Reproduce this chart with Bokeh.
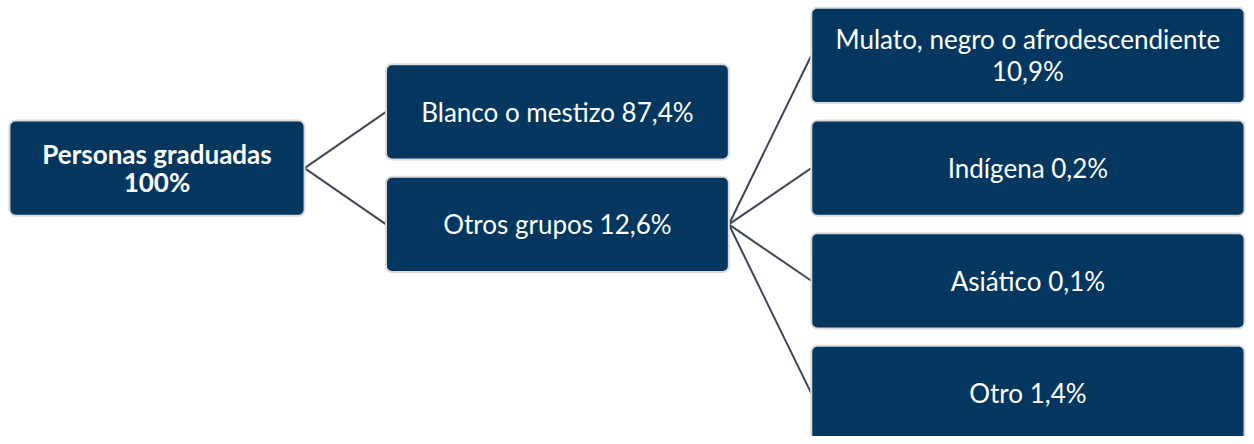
from bokeh.plotting import figure
from bokeh.models import Range1d, ColumnDataSource
from bokeh.core.properties import value
from bokeh.embed import file_html
from bokeh.resources import INLINE

# ---- data ----
root_label = "Personas graduadas"
root_value = "100%"
level1_labels = ["Blanco o mestizo", "Otros grupos"]
level1_values = [87.4, 12.6]
level2_labels = ["Mulato, negro o afrodescendiente", "Indígena", "Asiático", "Otro"]
level2_values = [10.9, 0.2, 0.1, 1.4]
parent_of_level2 = 1  # "Otros grupos"


def fmt(v):
    return f"{v:.1f}".replace(".", ",") + "%"


def make_text(lbl, val):
    if len(lbl) > 24:
        return lbl + "\n" + val
    return lbl + " " + val


# ---- layout (design units = reference pixels) ----
W, H = 1246, 436
UW, UH = 1254, 444
STEP = 114.7
BOX_H = 97
C0 = 56
cols = [(9, 306), (388, 733), (816, 1252)]

BOX = "#03375F"
EDGE = "#DADADA"
LINK = "#3F4756"

p = figure(width=W, height=H, output_backend="svg", toolbar_location=None,
           x_range=Range1d(0, UW), y_range=Range1d(UH, 0), min_border=0)
p.axis.visible = False
p.grid.visible = False
p.outline_line_color = None
p.background_fill_color = "white"
p.border_fill_color = "white"

root_c = C0 + STEP * 1.0
l1_c = [C0 + STEP * (0.5 + i) for i in range(len(level1_labels))]
l2_c = [C0 + STEP * i for i in range(len(level2_labels))]

# links
xs, ys = [], []
for c in l1_c:
    xs.append([cols[0][1], cols[1][0]])
    ys.append([root_c, c])
for c in l2_c:
    xs.append([cols[1][1], cols[2][0]])
    ys.append([l1_c[parent_of_level2], c])
p.multi_line(xs=xs, ys=ys, line_color=LINK, line_width=2)

# boxes
lefts, rights, tops, bottoms, texts, xc, yc = [], [], [], [], [], [], []


def add(col, c, txt):
    lefts.append(cols[col][0])
    rights.append(cols[col][1])
    tops.append(c - BOX_H / 2)
    bottoms.append(c + BOX_H / 2)
    texts.append(txt)
    xc.append((cols[col][0] + cols[col][1]) / 2)
    yc.append(c)


add(0, root_c, root_label + "\n" + root_value)
for lbl, v, c in zip(level1_labels, level1_values, l1_c):
    add(1, c, make_text(lbl, fmt(v)))
for lbl, v, c in zip(level2_labels, level2_values, l2_c):
    add(2, c, make_text(lbl, fmt(v)))

src = ColumnDataSource(dict(left=lefts, right=rights, top=tops, bottom=bottoms))
p.quad(left="left", right="right", top="top", bottom="bottom", source=src,
       fill_color=BOX, line_color=EDGE, line_width=2, border_radius=6)

tsrc_bold = ColumnDataSource(dict(x=xc[:1], y=yc[:1], t=texts[:1]))
tsrc = ColumnDataSource(dict(x=xc[1:], y=yc[1:], t=texts[1:]))
p.text(x="x", y="y", text="t", source=tsrc_bold, text_color="white",
       text_font=value("Lato"), text_font_size="26px", text_font_style="bold",
       text_align="center", text_baseline="middle", text_line_height=0.88)
p.text(x="x", y="y", text="t", source=tsrc, text_color="white",
       text_font=value("Lato"), text_font_size="26px",
       text_align="center", text_baseline="middle", text_line_height=1.0)

open("out.html", "w").write(file_html(p, INLINE))
